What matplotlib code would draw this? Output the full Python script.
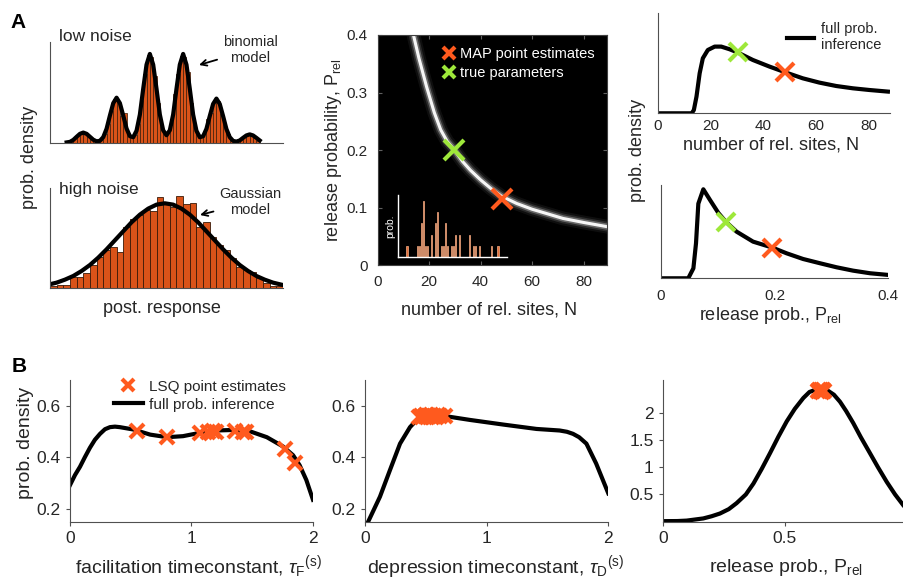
import matplotlib as mpl
mpl.use('Agg')
import numpy as np
import matplotlib.pyplot as plt

mpl.rcParams.update({
    'font.family': ['Liberation Sans', 'DejaVu Sans'],
    'mathtext.fontset': 'custom',
    'mathtext.rm': 'Liberation Sans',
    'mathtext.it': 'Liberation Sans:italic',
    'text.color': '#262626',
    'axes.labelcolor': '#262626',
    'xtick.color': '#262626',
    'ytick.color': '#262626',
    'axes.edgecolor': '#404040',
})

BAR = '#D95319'
ORANGE = '#FF5A1E'
GREEN = '#9EE83A'

# ---- panel A, left: histograms of postsynaptic responses
lo_bar_x = np.round(np.arange(0.55, 6.26, 0.1), 2)
lo_bar_h = [0.01, 0.03, 0.06, 0.09, 0.11, 0.12, 0.09, 0.05, 0.03, 0.02,
            0.04, 0.10, 0.22, 0.36, 0.50, 0.47, 0.30, 0.34, 0.12, 0.07,
            0.09, 0.22, 0.47, 0.78, 0.99, 0.97, 0.75, 0.45, 0.22, 0.10,
            0.12, 0.25, 0.55, 0.78, 0.98, 0.97, 0.80, 0.45, 0.20, 0.09,
            0.08, 0.12, 0.27, 0.34, 0.49, 0.47, 0.33, 0.22, 0.10, 0.05,
            0.02, 0.03, 0.05, 0.08, 0.10, 0.09, 0.06, 0.03]
lo_fit_x = np.round(np.arange(0.5, 6.35, 0.1), 2)
lo_fit_y = [0.01, 0.016, 0.038, 0.073, 0.106, 0.12, 0.106, 0.073, 0.04, 0.022,
            0.028, 0.069, 0.163, 0.311, 0.449, 0.51, 0.449, 0.311, 0.165, 0.08,
            0.068, 0.141, 0.321, 0.61, 0.88, 1.0, 0.88, 0.61, 0.322, 0.146,
            0.09, 0.146, 0.322, 0.61, 0.88, 1.0, 0.88, 0.61, 0.321, 0.14,
            0.068, 0.079, 0.162, 0.305, 0.44, 0.50, 0.44, 0.305, 0.16, 0.069,
            0.027, 0.019, 0.032, 0.061, 0.088, 0.10, 0.088, 0.061, 0.032]

hi_bar_h = [7, 10, 9, 33, 35, 47, 70, 95, 115, 123, 110, 185, 207, 220, 235,
            233, 273, 255, 245, 277, 253, 257, 183, 200, 155, 130, 115, 90, 65,
            55, 50, 30, 15, 7, 7]
hi_fit_x = [-0.25 + 1.25 * k for k in range(29)]
hi_fit_y = [11, 17, 26, 37, 52, 70, 92, 117, 144, 171, 198, 221, 239, 251, 255,
            251, 239, 221, 198, 171, 144, 117, 92, 70, 52, 37, 26, 17, 11]

# ---- panel A, middle: posterior ridge over (N, P_rel)
ridge_N = [13.9, 16, 19, 22, 24.5, 27, 30, 33, 36, 40, 44, 48, 54, 60, 66, 72, 80, 90]
ridge_P = [0.40, 0.36, 0.31, 0.265, 0.235, 0.215, 0.199, 0.18, 0.165, 0.148,
           0.133, 0.12, 0.107, 0.097, 0.089, 0.081, 0.074, 0.066]
map_N, map_P = 48.5, 0.115
true_N, true_P = 29.5, 0.20
inset_bin = [4, 9, 10, 11, 12, 13, 14, 16, 18, 19, 21, 22, 23, 24, 26, 27, 28,
             30, 35, 37, 38, 40, 46, 49]
inset_cnt = [1, 1, 1, 3, 5, 1, 1, 2, 3, 4, 1, 1, 3, 1, 1, 1, 2, 2, 2, 1, 1, 1, 1, 1]

# ---- panel A, right: marginals
mN_x = [0, 12.8, 13.6, 14.6, 15.8, 17.0, 18.9, 21.5, 24.0, 27.2, 30.3, 36.0,
        42.3, 48.6, 54.9, 61.2, 67.6, 73.9, 80.2, 87.2]
mN_y = [0, 0, 0.033, 0.167, 0.40, 0.55, 0.633, 0.667, 0.667, 0.64, 0.607, 0.533,
        0.467, 0.407, 0.35, 0.307, 0.273, 0.25, 0.233, 0.217]
mN_true, mN_map = (30.3, 0.617), (48.2, 0.41)
mP_x = [0, 0.048, 0.057, 0.0616, 0.0657, 0.0745, 0.0862, 0.101, 0.114, 0.133,
        0.162, 0.196, 0.221, 0.25, 0.28, 0.309, 0.338, 0.368, 0.4]
mP_y = [0, 0, 0.107, 0.375, 0.80, 0.954, 0.84, 0.70, 0.607, 0.50, 0.393, 0.329,
        0.268, 0.207, 0.161, 0.118, 0.082, 0.054, 0.036]
mP_true, mP_map = (0.114, 0.607), (0.196, 0.329)

# ---- panel B: short-term plasticity parameters
tauF_x = [0, 0.041, 0.082, 0.123, 0.164, 0.205, 0.247, 0.288, 0.329, 0.37, 0.41,
          0.52, 0.66, 0.80, 0.93, 1.07, 1.2, 1.34, 1.48, 1.62, 1.753, 1.836,
          1.89, 1.945, 2.0]
tauF_y = [0.292, 0.331, 0.363, 0.401, 0.437, 0.468, 0.491, 0.509, 0.517, 0.519,
          0.517, 0.508, 0.488, 0.478, 0.482, 0.495, 0.504, 0.506, 0.501, 0.478,
          0.442, 0.408, 0.369, 0.312, 0.235]
tauF_lsq_x = [0.548, 0.795, 1.07, 1.137, 1.178, 1.205, 1.356, 1.425, 1.452, 1.767, 1.849]
tauF_lsq_y = [0.501, 0.478, 0.494, 0.497, 0.501, 0.50, 0.501, 0.497, 0.497, 0.433, 0.378]

tauD_x = [0.027, 0.123, 0.205, 0.288, 0.37, 0.41, 0.452, 0.534, 0.6, 0.671, 0.863,
          1.137, 1.41, 1.6, 1.66, 1.71, 1.76, 1.82, 1.9, 2.0]
tauD_y = [0.151, 0.247, 0.35, 0.453, 0.517, 0.537, 0.549, 0.558, 0.56, 0.559,
          0.545, 0.527, 0.51, 0.504, 0.499, 0.491, 0.478, 0.453, 0.376, 0.26]
tauD_lsq_x = [0.44, 0.46, 0.47, 0.49, 0.50, 0.51, 0.52, 0.53, 0.545, 0.55, 0.57,
              0.58, 0.60, 0.62, 0.655]
tauD_lsq_y = [0.558, 0.562, 0.555, 0.560, 0.565, 0.557, 0.562, 0.559, 0.564,
              0.556, 0.561, 0.558, 0.563, 0.559, 0.561]

prel_x = [0, 0.06, 0.098, 0.166, 0.2, 0.234, 0.27, 0.302, 0.34, 0.371, 0.405,
          0.439, 0.473, 0.507, 0.54, 0.575, 0.60, 0.63, 0.67, 0.70, 0.725, 0.75,
          0.779, 0.81, 0.847, 0.88, 0.916, 0.95, 0.984, 1.0]
prel_y = [0.01, 0.012, 0.02, 0.06, 0.10, 0.15, 0.23, 0.34, 0.50, 0.70, 0.97, 1.26,
          1.56, 1.84, 2.07, 2.27, 2.38, 2.43, 2.42, 2.33, 2.2, 2.03, 1.81, 1.55,
          1.26, 1.0, 0.73, 0.5, 0.3, 0.22]
prel_lsq_x = [0.635, 0.64, 0.645, 0.65, 0.655, 0.66, 0.648, 0.652]
prel_lsq_y = [2.39, 2.41, 2.40, 2.38, 2.41, 2.40, 2.42, 2.39]

W, H = 904, 581
fig = plt.figure(figsize=(W / 100, H / 100), dpi=100)


def box(l, t, r, b):
    return [l / W, 1 - b / H, (r - l) / W, (b - t) / H]


def plain(ax):
    for s in ['top', 'right']:
        ax.spines[s].set_visible(False)
    for s in ['left', 'bottom']:
        ax.spines[s].set_color('#505050')
        ax.spines[s].set_linewidth(0.8)


def xlab(ax, text, fx, fy, size):
    ax.set_xlabel(text, fontsize=size)
    ax.xaxis.label.set_va('center')
    ax.xaxis.set_label_coords(fx, fy)


# low noise
ax = fig.add_axes(box(50, 42.3, 283, 143.3))
plain(ax)
ax.bar(lo_bar_x, lo_bar_h, width=0.1, color=BAR, edgecolor='#3a1a08', linewidth=0.5)
ax.plot(lo_fit_x, lo_fit_y, color='black', lw=3, solid_joinstyle='round')
ax.set_xlim(0, 7)
ax.set_ylim(0, 1.13)
ax.set_xticks([])
ax.set_yticks([])
ax.text(0.04, 1.06, 'low noise', transform=ax.transAxes, fontsize=12.5, va='center')
ax.annotate('binomial\nmodel', xy=(199, H - 65), xycoords='figure pixels',
            xytext=(250, H - 50), textcoords='figure pixels', fontsize=10.5,
            ha='center', va='center', linespacing=1.1,
            arrowprops=dict(arrowstyle='->', color='black', lw=1.3, shrinkA=2, shrinkB=0))

# high noise
ax = fig.add_axes(box(50, 188.3, 283, 288.3))
plain(ax)
ax.bar(np.arange(len(hi_bar_h)) + 0.5, hi_bar_h, width=1.0, color=BAR,
       edgecolor='#3a1a08', linewidth=0.6)
ax.plot(hi_fit_x, hi_fit_y, color='black', lw=3)
ax.set_xlim(0, 35)
ax.set_ylim(0, 300)
ax.set_xticks([])
ax.set_yticks([])
ax.text(0.04, 0.99, 'high noise', transform=ax.transAxes, fontsize=12.5, va='center')
ax.annotate('Gaussian\nmodel', xy=(200, H - 215), xycoords='figure pixels',
            xytext=(250, H - 202), textcoords='figure pixels', fontsize=10.5,
            ha='center', va='center', linespacing=1.1,
            arrowprops=dict(arrowstyle='->', color='black', lw=1.3, shrinkA=2, shrinkB=0))
xlab(ax, 'post. response', 0.48, -0.2, 13)
fig.text(30 / W, 1 - 157 / H, 'prob. density', rotation=90, ha='center', va='center', fontsize=13)

# middle: posterior image
ax = fig.add_axes(box(377.7, 35, 606.7, 265))
ax.set_facecolor('black')
for lw, a in [(10, 0.06), (7, 0.12), (4.5, 0.3), (2.2, 0.95)]:
    ax.plot(ridge_N, ridge_P, color='white', lw=lw, alpha=a, solid_capstyle='round')
ax.plot(true_N, true_P, 'x', color=GREEN, ms=14, mew=3, label='true parameters')
ax.plot(map_N, map_P, 'x', color=ORANGE, ms=14, mew=3, label='MAP point estimates')
h, l = ax.get_legend_handles_labels()
ax.legend(h[::-1], l[::-1], loc='upper right', frameon=False, fontsize=10.5,
          labelcolor='white', markerscale=0.6, handletextpad=0.3,
          handlelength=1.0, borderaxespad=0.4, labelspacing=0.35)
ax.set_xlim(0, 89)
ax.set_ylim(0, 0.4)
ax.set_xticks([0, 20, 40, 60, 80])
ax.set_yticks([0, 0.1, 0.2, 0.3, 0.4])
ax.set_yticklabels(['0', '0.1', '0.2', '0.3', '0.4'])
ax.tick_params(labelsize=11, direction='in', length=3, color='#606060',
               right=True, top=True, pad=7)
for s in ax.spines.values():
    s.set_color('#404040')
xlab(ax, 'number of rel. sites, N', 0.486, -0.196, 13)
ax.set_ylabel(r'release probability, P$_{\mathrm{rel}}$', fontsize=13)
ax.yaxis.label.set_va('center')
ax.yaxis.set_label_coords(-0.195, 0.5)

# inset histogram of MAP estimates
axi = fig.add_axes(box(398.3, 195, 506.7, 257.3))
axi.patch.set_alpha(0)
axi.bar(np.array(inset_bin) + 0.5, inset_cnt, width=0.85, color='#E8703A',
        edgecolor='#F5B08A', linewidth=0.5)
axi.set_xlim(0, 54)
axi.set_ylim(0, 5.5)
axi.set_xticks([])
axi.set_yticks([])
for s in ['top', 'right']:
    axi.spines[s].set_visible(False)
for s in ['left', 'bottom']:
    axi.spines[s].set_color('white')
    axi.spines[s].set_linewidth(1)
axi.set_ylabel('prob.', color='white', fontsize=7.5, labelpad=2)

# right: marginal over N
ax = fig.add_axes(box(658, 13.3, 890, 113.3))
plain(ax)
ax.plot(mN_x, mN_y, color='black', lw=3, label='full prob.\ninference')
ax.plot(*mN_true, 'x', color=GREEN, ms=13, mew=3)
ax.plot(*mN_map, 'x', color=ORANGE, ms=13, mew=3)
ax.set_xlim(0, 88)
ax.set_ylim(0, 1)
ax.set_xticks([0, 20, 40, 60, 80])
ax.set_yticks([])
ax.tick_params(labelsize=11, direction='in', length=0, pad=4)
ax.legend(loc='upper right', frameon=False, fontsize=10.5, handlelength=1.8,
          handletextpad=0.5, borderaxespad=0.2, bbox_to_anchor=(1.0, 1.0))
xlab(ax, 'number of rel. sites, N', 0.487, -0.317, 13)

# right: marginal over P_rel
ax = fig.add_axes(box(661, 185, 888.3, 278.3))
plain(ax)
ax.plot(mP_x, mP_y, color='black', lw=3)
ax.plot(*mP_true, 'x', color=GREEN, ms=13, mew=3)
ax.plot(*mP_map, 'x', color=ORANGE, ms=13, mew=3)
ax.set_xlim(0, 0.4)
ax.set_ylim(0, 1)
ax.set_xticks([0, 0.2, 0.4])
ax.set_xticklabels(['0', '0.2', '0.4'])
ax.set_yticks([])
ax.tick_params(labelsize=11, direction='in', length=0, pad=8)
xlab(ax, r'release prob., P$_{\mathrm{rel}}$', 0.48, -0.4, 13)
fig.text(638 / W, 1 - 150 / H, 'prob. density', rotation=90, ha='center', va='center', fontsize=13)

# panel B
bottom = [
    (box(70, 380, 313, 521.7), tauF_x, tauF_y, tauF_lsq_x, tauF_lsq_y,
     (0, 2), (0.15, 0.7), [0, 1, 2], ['0', '1', '2'], [0.2, 0.4, 0.6], ['0.2', '0.4', '0.6'],
     r'facilitation timeconstant, $\tau_{\mathrm{F}}{}^{\mathrm{(s)}}$', 0.53),
    (box(365, 380, 608.3, 521.7), tauD_x, tauD_y, tauD_lsq_x, tauD_lsq_y,
     (0, 2), (0.15, 0.7), [0, 1, 2], ['0', '1', '2'], [0.2, 0.4, 0.6], ['0.2', '0.4', '0.6'],
     r'depression timeconstant, $\tau_{\mathrm{D}}{}^{\mathrm{(s)}}$', 0.538),
    (box(662.7, 380, 907.3, 521.7), prel_x, prel_y, prel_lsq_x, prel_lsq_y,
     (0, 1), (0, 2.6), [0, 0.5, 1], ['0', '0.5', '1'], [0.5, 1, 1.5, 2], ['0.5', '1', '1.5', '2'],
     r'release prob., P$_{\mathrm{rel}}$', 0.504),
]
for i, (rect, cx, cy, lx, ly, xl, yl, xt, xtl, yt, ytl, label, fx) in enumerate(bottom):
    ax = fig.add_axes(rect)
    plain(ax)
    ax.plot(cx, cy, color='black', lw=3, label='full prob. inference', zorder=2)
    ax.plot(lx, ly, 'x', color=ORANGE, ms=10, mew=3, ls='none',
            label='LSQ point estimates', zorder=3)
    ax.set_xlim(*xl)
    ax.set_ylim(*yl)
    ax.set_xticks(xt)
    ax.set_xticklabels(xtl)
    ax.set_yticks(yt)
    ax.set_yticklabels(ytl)
    ax.tick_params(labelsize=12.5, direction='out', length=3, color='#505050')
    xlab(ax, label, fx, -0.32, 14)
    if i == 0:
        ax.set_ylabel('prob. density', fontsize=14)
        ax.yaxis.label.set_va('center')
        ax.yaxis.set_label_coords(-0.185, 0.555)
        h, l = ax.get_legend_handles_labels()
        ax.legend(h[::-1], l[::-1], loc='upper left', frameon=False, fontsize=11,
                  handlelength=1.9, handletextpad=0.4, labelspacing=0.25,
                  markerscale=0.8, bbox_to_anchor=(100 / W, 1 - 366 / H),
                  bbox_transform=fig.transFigure)

fig.text(18 / W, 1 - 22 / H, 'A', fontsize=15, fontweight='bold', ha='center', va='center', color='black')
fig.text(19 / W, 1 - 367 / H, 'B', fontsize=15, fontweight='bold', ha='center', va='center', color='black')

fig.savefig('out.png', dpi=100)
